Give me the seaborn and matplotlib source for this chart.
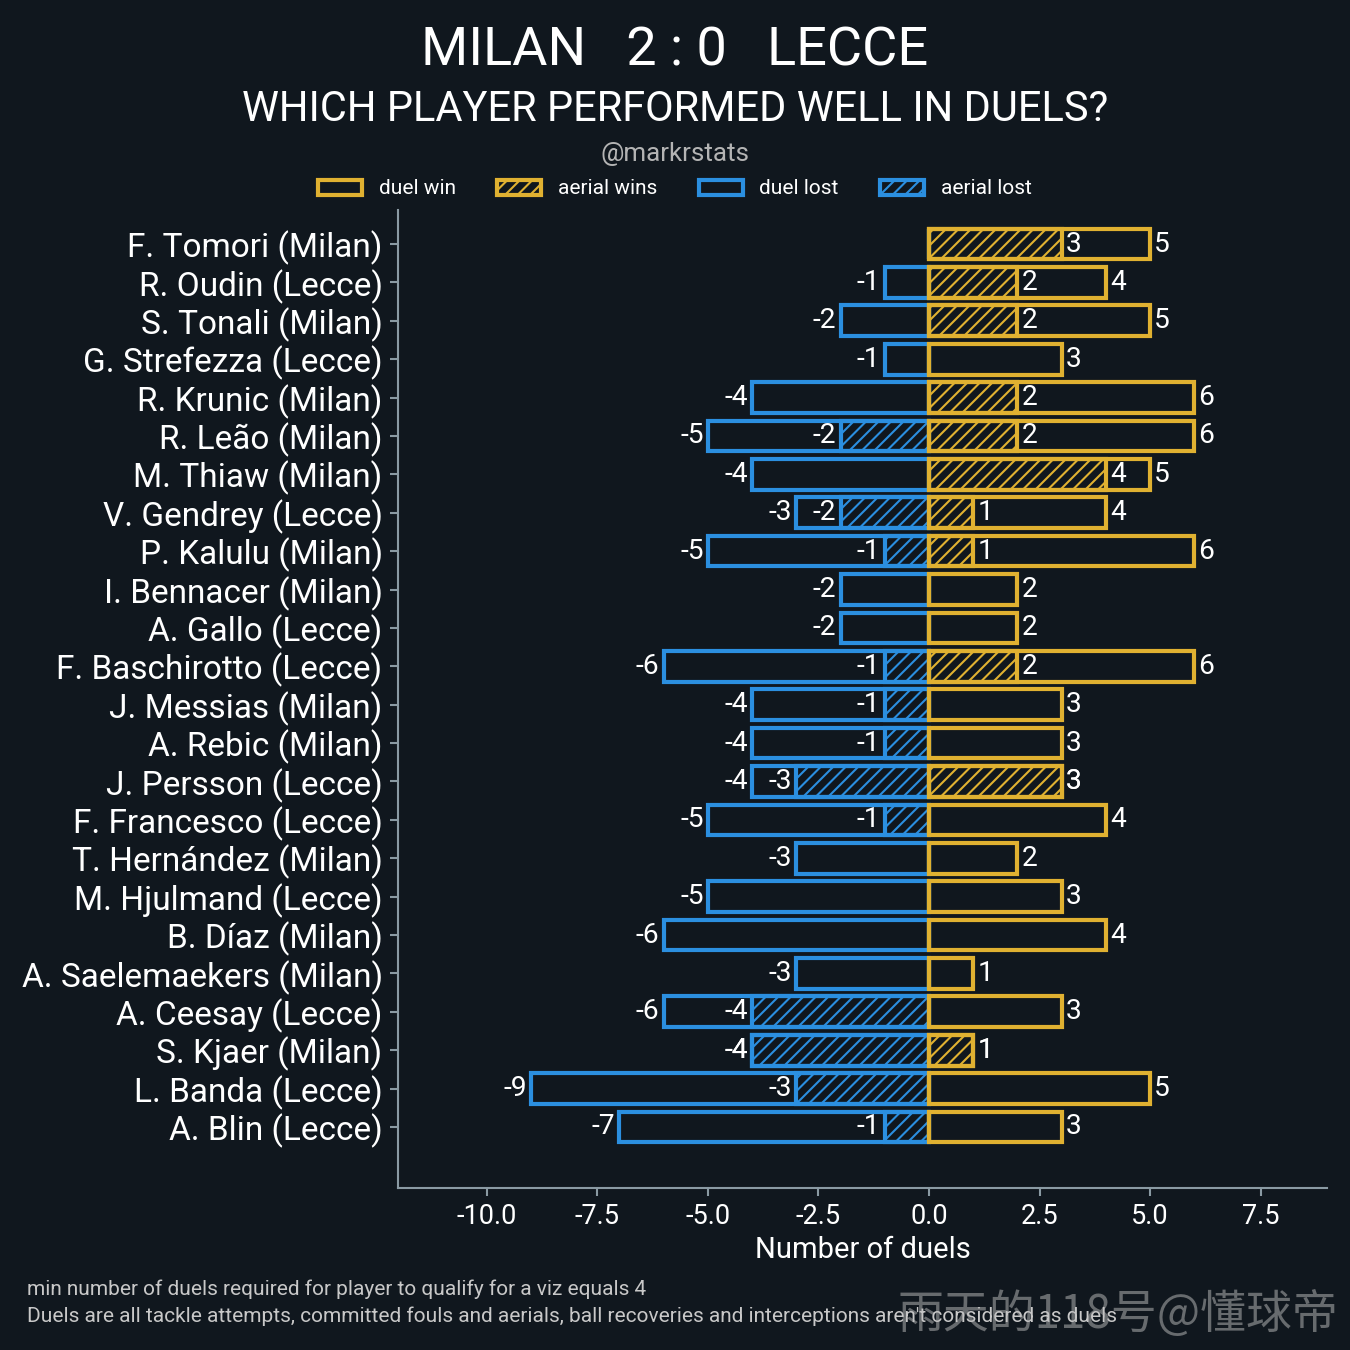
import matplotlib
matplotlib.use("Agg")
import matplotlib.pyplot as plt
import matplotlib.patches as mpatches
import seaborn as sns
import pandas as pd

players = [
    "F. Tomori (Milan)", "R. Oudin (Lecce)", "S. Tonali (Milan)", "G. Strefezza (Lecce)",
    "R. Krunic (Milan)", "R. Leão (Milan)", "M. Thiaw (Milan)", "V. Gendrey (Lecce)",
    "P. Kalulu (Milan)", "I. Bennacer (Milan)", "A. Gallo (Lecce)", "F. Baschirotto (Lecce)",
    "J. Messias (Milan)", "A. Rebic (Milan)", "J. Persson (Lecce)", "F. Francesco (Lecce)",
    "T. Hernández (Milan)", "M. Hjulmand (Lecce)", "B. Díaz (Milan)", "A. Saelemaekers (Milan)",
    "A. Ceesay (Lecce)", "S. Kjaer (Milan)", "L. Banda (Lecce)", "A. Blin (Lecce)",
]
duel_win = [5, 4, 5, 3, 6, 6, 5, 4, 6, 2, 2, 6, 3, 3, 3, 4, 2, 3, 4, 1, 3, 1, 5, 3]
aerial_win = [3, 2, 2, 0, 2, 2, 4, 1, 1, 0, 0, 2, 0, 0, 3, 0, 0, 0, 0, 0, 0, 1, 0, 0]
duel_lost = [0, -1, -2, -1, -4, -5, -4, -3, -5, -2, -2, -6, -4, -4, -4, -5, -3, -5, -6, -3, -6, -4, -9, -7]
aerial_lost = [0, 0, 0, 0, 0, -2, 0, -2, -1, 0, 0, -1, -1, -1, -3, -1, 0, 0, 0, 0, -4, -4, -3, -1]

legend_labels = ["duel win", "aerial wins", "duel lost", "aerial lost"]

BG = "#10171e"
GOLD = "#e0b131"
BLUE = "#2b8fe0"
GRID = "#8a9aa3"

sns.set_theme(style="ticks")
plt.rcParams["font.family"] = ["Roboto", "DejaVu Sans"]
plt.rcParams["axes.unicode_minus"] = False
plt.rcParams["hatch.linewidth"] = 1.0

df = pd.DataFrame({
    "player": players,
    "duel_win": duel_win,
    "aerial_win": aerial_win,
    "duel_lost": duel_lost,
    "aerial_lost": aerial_lost,
})

fig = plt.figure(figsize=(9, 9), dpi=150, facecolor=BG)
ax = fig.add_axes([0.295, 0.12, 0.688, 0.7244])
ax.set_facecolor(BG)

LW = 2.0
series = [
    ("duel_lost", BLUE, None),
    ("aerial_lost", BLUE, "////"),
    ("duel_win", GOLD, None),
    ("aerial_win", GOLD, "////"),
]
for col, colr, hatch in series:
    kw = {}
    if hatch:
        kw["hatch"] = hatch
    sns.barplot(data=df, x=col, y="player", orient="h", color=colr, fill=False,
                linewidth=LW, width=0.8, errorbar=None, ax=ax, **kw)
    cont = ax.containers[-1]
    for p in cont.patches:
        p.set_edgecolor(colr)
        p.set_facecolor("none")
    vals = df[col].tolist()
    ax.bar_label(cont, labels=[str(v) if v != 0 else "" for v in vals],
                 padding=2, color="white", fontsize=13.5)

ax.set_xlim(-12, 9)
ax.set_ylim(24.59, -0.885)
ax.set_ylabel("")
ax.set_xlabel("Number of duels", color="white", fontsize=14, labelpad=3)
ax.tick_params(axis="y", colors=GRID, labelcolor="white", labelsize=16, length=4, width=1)
ax.tick_params(axis="x", colors=GRID, labelcolor="white", labelsize=13, length=4, width=1, pad=3)
for s in ["top", "right"]:
    ax.spines[s].set_visible(False)
for s in ["left", "bottom"]:
    ax.spines[s].set_color(GRID)
    ax.spines[s].set_linewidth(1)

fig.text(0.5, 0.962, "MILAN   2 : 0   LECCE", color="white", fontsize=26,
         ha="center", va="center")
fig.text(0.5, 0.919, "WHICH PLAYER PERFORMED WELL IN DUELS?", color="white", fontsize=20,
         ha="center", va="center")
fig.text(0.5, 0.886, "@markrstats", color="#b4b4b4", fontsize=12.5, ha="center", va="center")

handles = [
    mpatches.Patch(facecolor="none", edgecolor=GOLD, linewidth=LW, label=legend_labels[0]),
    mpatches.Patch(facecolor="none", edgecolor=GOLD, linewidth=LW, hatch="////", label=legend_labels[1]),
    mpatches.Patch(facecolor="none", edgecolor=BLUE, linewidth=LW, label=legend_labels[2]),
    mpatches.Patch(facecolor="none", edgecolor=BLUE, linewidth=LW, hatch="////", label=legend_labels[3]),
]
leg = fig.legend(handles=handles, loc="center", bbox_to_anchor=(0.5, 0.860), ncol=4,
                 frameon=False, fontsize=10, labelcolor="white", handlelength=2.1,
                 handleheight=0.75, columnspacing=2.0, handletextpad=0.8)

fig.text(0.02, 0.045, "min number of duels required for player to qualify for a viz equals 4",
         color="#c8c8c8", fontsize=10, ha="left", va="center")
fig.text(0.02, 0.025,
         "Duels are all tackle attempts, committed fouls and aerials, ball recoveries and interceptions aren't considered as duels",
         color="#c8c8c8", fontsize=10, ha="left", va="center")
fig.text(0.991, 0.026, "雨天的118号@懂球帝", color="#bfbfbf", alpha=0.5, fontsize=22,
         ha="right", va="center", family=["Noto Sans CJK SC", "DejaVu Sans"])

fig.savefig("out.png", dpi=150, facecolor=BG)
